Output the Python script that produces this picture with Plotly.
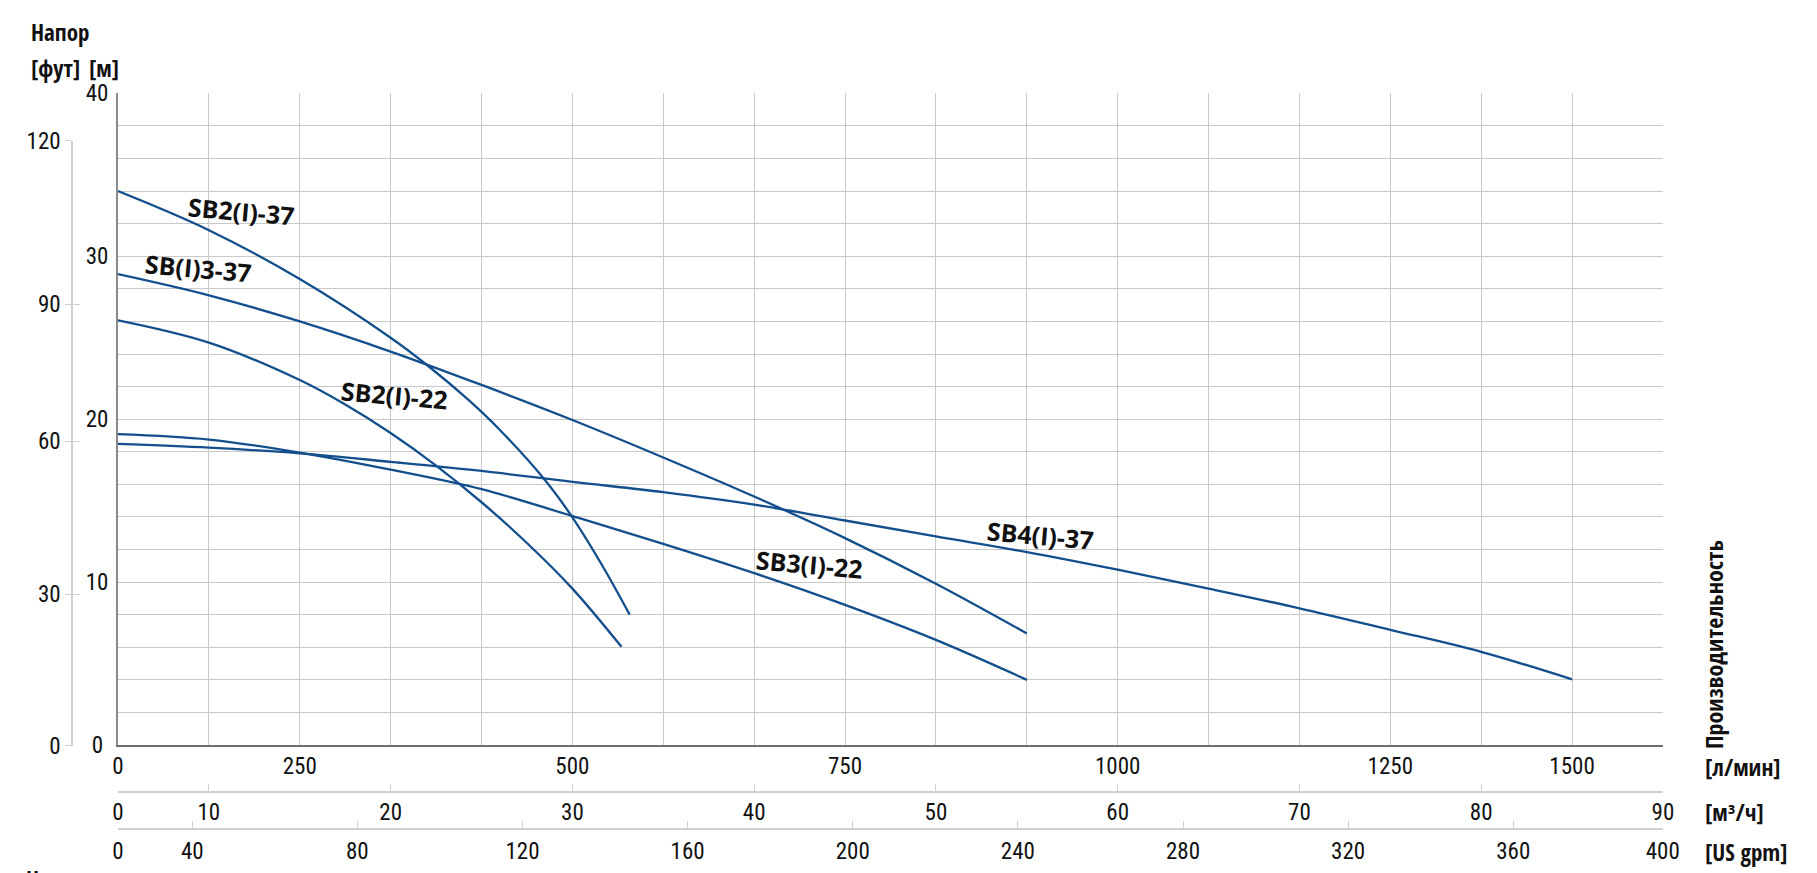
import plotly.graph_objects as go

W, H = 1817, 873

# ---------------- data (flow in l/min, head in m) ----------------
SB2_37_Q = [83.3, 166.7, 250.0, 333.3, 367.5, 404.2, 433.3, 475.0, 500.0, 527.5, 552.5]
SB2_37_H = [34.0, 31.6, 28.6, 25.0, 23.28, 21.21, 19.35, 16.25, 13.97, 11.0, 8.0]

SB2_22_Q = [83.3, 166.7, 250.0, 291.7, 333.3, 375.0, 416.7, 458.3, 500.0, 545.0]
SB2_22_H = [26.07, 24.7, 22.4, 20.9, 19.15, 17.15, 14.9, 12.4, 9.6, 6.03]

SB3_37_Q = [83.3, 166.7, 250.0, 333.3, 416.7, 500.0, 583.3, 666.7, 750.0, 833.3, 916.7]
SB3_37_H = [28.9, 27.6, 26.0, 24.15, 22.1, 19.95, 17.65, 15.25, 12.7, 9.9, 6.85]

SB3_22_Q = [83.3, 166.7, 250.0, 333.3, 416.7, 500.0, 583.3, 666.7, 750.0, 833.3, 916.7]
SB3_22_H = [19.08, 18.75, 17.95, 16.9, 15.7, 14.05, 12.35, 10.55, 8.6, 6.45, 4.0]

SB4_37_Q = [83.3, 166.7, 250.0, 333.3, 416.7, 500.0, 583.3, 666.7, 750.0, 833.3,
            916.7, 1000.0, 1083.3, 1166.7, 1250.0, 1333.3, 1416.7]
SB4_37_H = [18.48, 18.25, 17.9, 17.38, 16.82, 16.15, 15.52, 14.75, 13.78, 12.8,
            11.84, 10.76, 9.6, 8.39, 7.07, 5.72, 4.03]

CURVE_NAMES = ["SB2(I)-37", "SB(I)3-37", "SB2(I)-22", "SB3(I)-22", "SB4(I)-37"]
LABEL_Q = [197, 157, 337, 717, 929]
LABEL_H = [32.8, 29.3, 21.5, 11.1, 12.9]

# ---------------- axes / ticks ----------------
X_RANGE_LPM = [83.333, 1500.05]
GRID_STEP_LPM = 83.3333
LPM_TICK_POS = [83.333, 250, 500, 750, 1000, 1250, 1416.667]
LPM_TICK_TEXT = ["0", "250", "500", "750", "1000", "1250", "1500"]

LPM_TO_M3H = 0.06
M3H_TICK_POS = [5, 10, 20, 30, 40, 50, 60, 70, 80, 90]
M3H_TICK_TEXT = ["0", "10", "20", "30", "40", "50", "60", "70", "80", "90"]

LPM_PER_GPM = 3.78541
GPM_TICK_POS = [22.02, 40, 80, 120, 160, 200, 240, 280, 320, 360, 396.2]
GPM_TICK_TEXT = ["0", "40", "80", "120", "160", "200", "240", "280", "320", "360", "400"]

Y_RANGE_M = [0, 40.02]
M_TICK_POS = [0, 10, 20, 30, 40]
M_TICK_TEXT = ["0\u2005", "10", "20", "30", "40"]

FT_TICK_POS_M = [0, 9.26, 18.65, 27.06, 37.07]
FT_TICK_TEXT = ["0", "30", "60", "90", "120"]

# ---------------- style ----------------
LINE_COLOR = "#134f8c"
GRID_COLOR = "#c9c9c9"
LIGHT_AXIS = "#cfcfcf"
TXT = "#111111"
NARROW = "Roboto Condensed, Roboto, sans-serif"
NARROW_BOLD = "Open Sans Condensed, Roboto Condensed, sans-serif"
BOLD_FONT = "Open Sans, Noto Sans, sans-serif"


def px(xp):
    return xp / W


def py(yp):
    return 1 - yp / H


X_DOMAIN = [px(118), px(1663)]

fig = go.Figure()

for q, h in [(SB2_37_Q, SB2_37_H), (SB3_37_Q, SB3_37_H), (SB2_22_Q, SB2_22_H),
             (SB3_22_Q, SB3_22_H), (SB4_37_Q, SB4_37_H)]:
    fig.add_trace(go.Scatter(x=q, y=h, mode="lines",
                             line=dict(color=LINE_COLOR, width=2.3, shape="spline", smoothing=1.0),
                             showlegend=False, hoverinfo="skip"))

# empty traces so that the secondary scales get their own subplots
for xa, ya in [("x2", "y"), ("x3", "y"), ("x4", "y2"), ("x4", "y3")]:
    fig.add_trace(go.Scatter(x=[None], y=[None], xaxis=xa, yaxis=ya,
                             showlegend=False, hoverinfo="skip"))

tickfont = dict(family=NARROW, size=23, color=TXT)

fig.update_layout(
    template="none",
    width=W, height=H,
    margin=dict(l=0, r=0, t=0, b=0, pad=0, autoexpand=False),
    paper_bgcolor="white", plot_bgcolor="rgba(0,0,0,0)",
    xaxis=dict(
        domain=X_DOMAIN, range=X_RANGE_LPM, anchor="y", automargin=False,
        tickmode="array", tickvals=LPM_TICK_POS, ticktext=LPM_TICK_TEXT,
        showgrid=True, gridcolor=GRID_COLOR, gridwidth=1.2,
        minor=dict(tick0=83.3333, dtick=GRID_STEP_LPM, showgrid=True,
                   gridcolor=GRID_COLOR, gridwidth=1.2, ticks=""),
        showline=True, linecolor="#6e6e6e", linewidth=1.6,
        ticks="", zeroline=False, tickfont=tickfont, ticklabelstandoff=0,
    ),
    xaxis2=dict(
        overlaying="x", anchor="free", position=py(792), side="bottom", automargin=False,
        range=[v * LPM_TO_M3H for v in X_RANGE_LPM],
        tickmode="array", tickvals=M3H_TICK_POS, ticktext=M3H_TICK_TEXT,
        showgrid=False, zeroline=False,
        showline=True, linecolor=LIGHT_AXIS, linewidth=1.5,
        ticks="inside", ticklen=7, tickcolor=LIGHT_AXIS, tickwidth=1.2,
        tickfont=tickfont, ticklabelstandoff=0,
    ),
    xaxis3=dict(
        overlaying="x", anchor="free", position=py(829), side="bottom", automargin=False,
        range=[v / LPM_PER_GPM for v in X_RANGE_LPM],
        tickmode="array", tickvals=GPM_TICK_POS, ticktext=GPM_TICK_TEXT,
        showgrid=False, zeroline=False,
        showline=True, linecolor=LIGHT_AXIS, linewidth=1.5,
        ticks="inside", ticklen=7, tickcolor=LIGHT_AXIS, tickwidth=1.2,
        tickfont=tickfont, ticklabelstandoff=2,
    ),
    xaxis4=dict(domain=X_DOMAIN, anchor="y2", visible=False, range=[0, 1], automargin=False),
    yaxis=dict(
        domain=[py(745), py(93)], range=Y_RANGE_M, anchor="x", automargin=False,
        tickmode="array", tickvals=M_TICK_POS, ticktext=M_TICK_TEXT,
        showgrid=True, gridcolor=GRID_COLOR, gridwidth=1.2,
        minor=dict(tick0=0, dtick=2, showgrid=True, gridcolor=GRID_COLOR,
                   gridwidth=1.2, ticks=""),
        showline=True, linecolor="#8a8a8a", linewidth=2,
        ticks="", zeroline=False, tickfont=tickfont, ticklabelstandoff=3,
    ),
    yaxis2=dict(
        domain=[py(745.5), py(140.7)], range=[0, FT_TICK_POS_M[-1]], automargin=False,
        anchor="free", position=px(72), side="left",
        tickmode="array", tickvals=FT_TICK_POS_M, ticktext=FT_TICK_TEXT,
        showgrid=False, zeroline=False,
        showline=True, linecolor=LIGHT_AXIS, linewidth=1.5,
        ticks="outside", ticklen=6, tickcolor=LIGHT_AXIS, tickwidth=1.2,
        tickfont=tickfont, ticklabelstandoff=0,
    ),
    yaxis3=dict(
        overlaying="y2", range=[0, FT_TICK_POS_M[-1]], automargin=False,
        anchor="free", position=px(72), side="left",
        tickmode="array", tickvals=FT_TICK_POS_M, showticklabels=False,
        showgrid=False, zeroline=False, showline=False,
        ticks="inside", ticklen=7, tickcolor=LIGHT_AXIS, tickwidth=1.2,
    ),
)

annotations = []
for name, q, h in zip(CURVE_NAMES, LABEL_Q, LABEL_H):
    annotations.append(dict(
        x=q, y=h, xref="x", yref="y", text="<b>%s</b>" % name, showarrow=False,
        textangle=5, xanchor="center", yanchor="middle",
        font=dict(family=BOLD_FONT, size=25, color=TXT)))

title_font = dict(family=NARROW_BOLD, size=23, color=TXT)
for text, xp, yp, xa in [("Напор", 29, 32, "left"), ("[фут]", 29, 68, "left"),
                         ("[м]", 87, 68, "left"), ("[л/мин]", 1703, 767, "left"),
                         ("[м³/ч]", 1703, 812, "left"), ("[US gpm]", 1703, 852, "left")]:
    annotations.append(dict(x=px(xp), y=py(yp), xref="paper", yref="paper",
                            text="<b>%s</b>" % text, showarrow=False,
                            xanchor=xa, yanchor="middle", font=title_font))
annotations.append(dict(x=px(1713), y=py(645), xref="paper", yref="paper",
                        text="<b>Производительность</b>", showarrow=False, textangle=-90,
                        xanchor="center", yanchor="middle",
                        font=dict(family=NARROW_BOLD, size=24, color=TXT)))
annotations.append(dict(x=px(24), y=py(861), xref="paper", yref="paper",
                        text="<b>Н</b>", showarrow=False, xanchor="left", yanchor="top",
                        font=title_font))
fig.update_layout(annotations=annotations)

fig.write_html("out.html", config=dict(displayModeBar=False),
               post_script="document.body.style.margin='0';document.body.style.overflow='hidden';")
